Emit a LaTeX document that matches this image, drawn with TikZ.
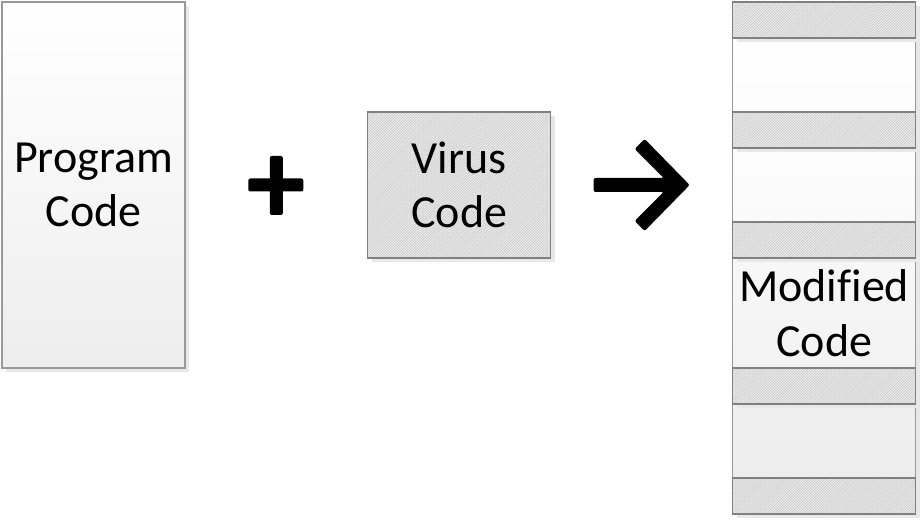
\documentclass[tikz,border=0pt]{standalone}
\usepackage{fontspec}
\setmainfont[Ligatures=NoCommon]{Carlito}
\usetikzlibrary{positioning,calc,shadows,patterns.meta}
\tikzset{
    boxshadow/.style={drop shadow={shadow xshift=3pt, shadow yshift=-3pt, fill=black!9, opacity=1}},
    plainbox/.style={draw=black!40, line width=1pt, rectangle, inner sep=0pt, outer sep=0pt,
        minimum width=137.25pt, align=center, font=\fontsize{34.5}{41}\selectfont, boxshadow},
    hatchbox/.style={plainbox, draw=black!50, minimum height=27pt,
        preaction={fill=black!8},
        pattern={Lines[angle=45, distance=1.4pt, line width=.35pt]}, pattern color=black!24},
    symbolbar/.style={fill=black, rounded corners=1.5pt}
}
\begin{document}
\begin{tikzpicture}[x=.75pt, y=.75pt, node distance=137pt]
    \useasboundingbox (0,0) rectangle (922,-520);
    \node [plainbox, minimum height=274.5pt, top color=white, bottom color=black!7] (Prog) at (93.5,-185) {Program\\Code};
    \node [hatchbox, minimum height=109.5pt, right=of Prog] (Virus) {Virus\\Code};

    % plain parts of the modified column first, so the stripes throw their shadow on them
    \node [plainbox, minimum height=55.5pt, right=136.5pt of Virus, top color=black!1, bottom color=black!2] (Mod2) {};
    \node [plainbox, minimum height=55.5pt, above=27pt of Mod2, top color=white, bottom color=black!1] (Mod1) {};
    \node [plainbox, minimum height=82.5pt, below=27pt of Mod2, top color=black!3, bottom color=black!5] (Mod3) {Modified\\Code};
    \node [plainbox, minimum height=55.5pt, below=27pt of Mod3, top color=black!6, bottom color=black!7] (Mod4) {};
    \node [hatchbox, above=0pt of Mod1] (Stripe1) {};
    \node [hatchbox, below=0pt of Mod1] (Stripe2) {};
    \node [hatchbox, below=0pt of Mod2] (Stripe3) {};
    \node [hatchbox, below=0pt of Mod3] (Stripe4) {};
    \node [hatchbox, below=0pt of Mod4] (Stripe5) {};

    \coordinate (Plus) at ($(Prog.east)!.5!(Virus.west)$);
    \coordinate (Arrow) at ($(Virus.east)!.5!(Mod2.west)$);
    \fill [symbolbar] ($(Plus)+(-28,6.5)$) rectangle ($(Plus)+(27,-6.5)$);
    \fill [symbolbar] ($(Plus)+(-6.5,29)$) rectangle ($(Plus)+(6.5,-30)$);
    \fill [symbolbar] ($(Arrow)+(-48,7)$) -- ($(Arrow)+(22,7)$) -- ($(Arrow)+(-7,36)$) -- ($(Arrow)+(3,46)$)
        -- ($(Arrow)+(48,0)$) -- ($(Arrow)+(3,-46)$) -- ($(Arrow)+(-7,-36)$) -- ($(Arrow)+(22,-7)$) -- ($(Arrow)+(-48,-7)$) -- cycle;
\end{tikzpicture}
\end{document}
